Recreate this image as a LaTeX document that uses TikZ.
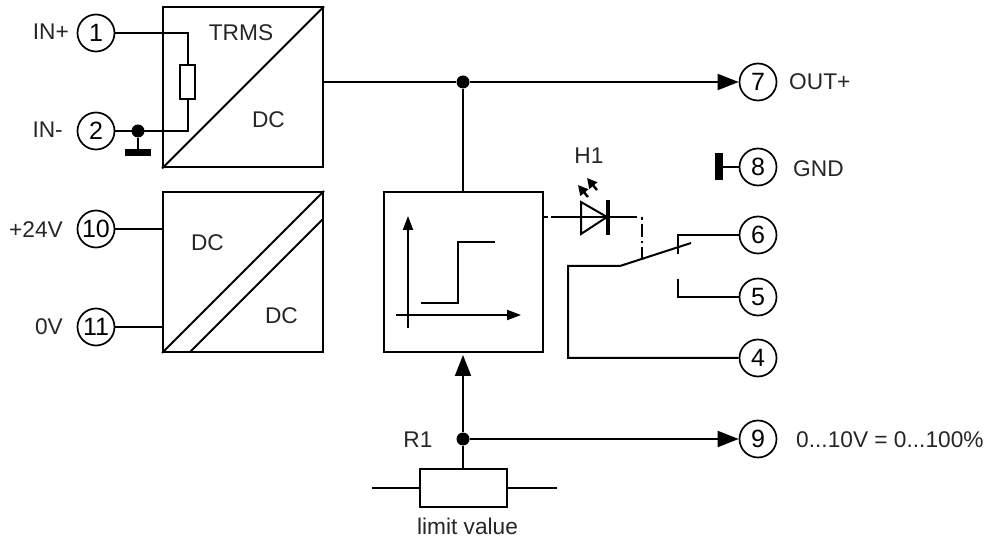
\documentclass[tikz,border=0pt]{standalone}
\usepackage{fontspec}
\setmainfont{Liberation Sans}
\usetikzlibrary{arrows.meta,calc}
\tikzset{
  wire/.style={line width=2pt,draw=black,line cap=butt,line join=miter},
  term/.style={circle,draw=black,line width=1.7pt,minimum size=37pt,inner sep=0pt,fill=white,font=\fontsize{25}{25}\selectfont},
  lab/.style={inner sep=0pt,font=\fontsize{22.7}{23}\selectfont,text=black!85},
  block/.style={rectangle,draw=black,line width=2pt,inner sep=0pt,minimum width=160pt,minimum height=160pt},
  res/.style={rectangle,draw=black,line width=1.9pt,inner sep=0pt,fill=white},
  dot/.style={circle,fill=black,inner sep=0pt,minimum size=13pt},
  bigarrow/.style={wire,-{Triangle[length=21pt,width=16pt]}},
  midarrow/.style={line width=2pt,draw=black,-{Triangle[length=14pt,width=10pt]}},
  tinyarrow/.style={line width=2.4pt,draw=black,-{Triangle[length=10pt,width=10pt]}},
}
\begin{document}
\begin{tikzpicture}[x=1pt,y=-1pt]
\useasboundingbox (0,0) rectangle (989,540);
% blocks
\node[block] (conv) at (243,87.5) {};
\node[block] (dcdc) at (243,272) {};
\node[block,minimum width=159pt] (comp) at (463.5,272) {};
% terminals
\node[term] (t1) at (96,33) {1};
\node[term] (t2) at (96,131) {2};
\node[term] (t10) at (96,229) {10};
\node[term] (t11) at (96,327) {11};
\node[term] (t7) at (758,82) {7};
\node[term] (t8) at (758,167) {8};
\node[term] (t6) at (758,235) {6};
\node[term] (t5) at (758,297) {5};
\node[term] (t4) at (758,358) {4};
\node[term] (t9) at (758,439) {9};
% labels
\node[lab,anchor=east] (l1) at (69,32) {IN+};
\node[lab,anchor=east] (l2) at (63,130) {IN-};
\node[lab,anchor=east] (l10) at (63,230) {+24V};
\node[lab,anchor=east] (l11) at (63,327) {0V};
\node[lab] (ltrms) at (241,33) {TRMS};
\node[lab] (ldc1) at (268.5,120) {DC};
\node[lab] (ldc2) at (207.5,243) {DC};
\node[lab] (ldc3) at (281.5,316) {DC};
\node[lab,anchor=west] (lout) at (789,82) {OUT+};
\node[lab,anchor=west] (lgnd) at (793,169) {GND};
\node[lab] (lh1) at (589,156) {H1};
\node[lab] (lr1) at (418,440) {R1};
\node[lab,anchor=west] (lpct) at (796,440) {0...10V = 0...100\%};
\node[lab] (llim) at (467.5,526) {limit value};
% block diagonals
\draw[wire] (conv.south west) -- (conv.north east);
\draw[wire] (dcdc.south west) -- (dcdc.north east);
\coordinate (d2a) at (190,352);
\coordinate (d2b) at (323,219);
\draw[wire] (d2a) -- (d2b);
% input shunt
\node[res,minimum width=15pt,minimum height=34pt] (shunt) at (187.5,82) {};
\coordinate (k1) at (shunt.north |- t1);
\coordinate (k2) at (shunt.south |- t2);
\draw[wire] (t1) -- (k1) -- (shunt.north);
\draw[wire] (shunt.south) -- (k2) -- (t2);
\node[dot] (j2) at (138,131) {};
\node[rectangle,fill=black,inner sep=0pt,minimum width=26pt,minimum height=7pt] (gnd1) at (138,153) {};
\draw[wire] (j2) -- (gnd1);
% supply
\draw[wire] (t10) -- (t10 -| dcdc.west);
\draw[wire] (t11) -- (t11 -| dcdc.west);
% output
\node[dot] (j1) at (463,82) {};
\draw[wire] (j1) -- (j1 |- comp.north);
\draw[wire] (j1 -| conv.east) -- (j1);
\draw[bigarrow] (j1) -- (t7.west);
% gnd 8
\node[rectangle,fill=black,inner sep=0pt,minimum width=8pt,minimum height=27pt] (gnd2) at (719,167) {};
\draw[wire] (gnd2) -- (t8);
% comparator graph
\coordinate (ya) at (408,328);
\coordinate (yb) at (408,216);
\coordinate (xa) at (396,315);
\coordinate (xb) at (521,315);
\draw[midarrow] (ya) -- (yb);
\draw[midarrow] (xa) -- (xb);
\coordinate (s1) at (421,303);
\coordinate (s2) at (458,303);
\coordinate (s3) at (458,242);
\coordinate (s4) at (495,242);
\draw[wire] (s1) -- (s2) -- (s3) -- (s4);
% LED
\coordinate (la) at (comp.east |- 0,217);
\coordinate (lm) at (551,217);
\coordinate (lc) at (637,217);
\draw[wire] (la) -- ++(4,0);
\draw[wire] (lm) -- (lc);
\coordinate (t1a) at (581,202);
\coordinate (t1b) at (581,234);
\coordinate (t1c) at (607,217);
\draw[wire] (t1a) -- (t1b) -- (t1c) -- cycle;
\coordinate (b1) at (607.5,200);
\coordinate (b2) at (607.5,235);
\draw[line width=4pt] (b1) -- (b2);
\coordinate (a1s) at (588,197);
\coordinate (a1e) at (578,185);
\coordinate (a2s) at (597,190);
\coordinate (a2e) at (587,178);
\draw[tinyarrow] (a1s) -- (a1e);
\draw[tinyarrow] (a2s) -- (a2e);
% mechanical link
\coordinate (m1) at (642,217);
\coordinate (m2) at (642,260);
\draw[wire,dash pattern=on 3pt off 4pt on 13pt off 4pt on 2pt off 4pt on 13pt] (m1) -- (m2);
% relay
\coordinate (r0) at (568,266);
\coordinate (r1) at (620,266);
\coordinate (r2) at (691,243);
\draw[wire] (t4) -- (t4 -| r0) -- (r0) -- (r1) -- (r2);
\coordinate (c6) at (678,254);
\draw[wire] (c6) -- (c6 |- t6) -- (t6);
\coordinate (c5) at (678,279);
\draw[wire] (c5) -- (c5 |- t5) -- (t5);
% limit pot
\node[res,minimum width=87pt,minimum height=38pt] (pot) at (463.5,488) {};
\coordinate (p1) at (372,488);
\coordinate (p2) at (557,488);
\draw[wire] (p1) -- (pot.west);
\draw[wire] (pot.east) -- (p2);
\node[dot] (j3) at (463,439) {};
\draw[wire] (j3 |- pot.north) -- (j3);
\draw[bigarrow] (j3) -- ($(j3 |- comp.south)+(0,2)$);
\draw[bigarrow] (j3) -- (t9.west);
\end{tikzpicture}
\end{document}
